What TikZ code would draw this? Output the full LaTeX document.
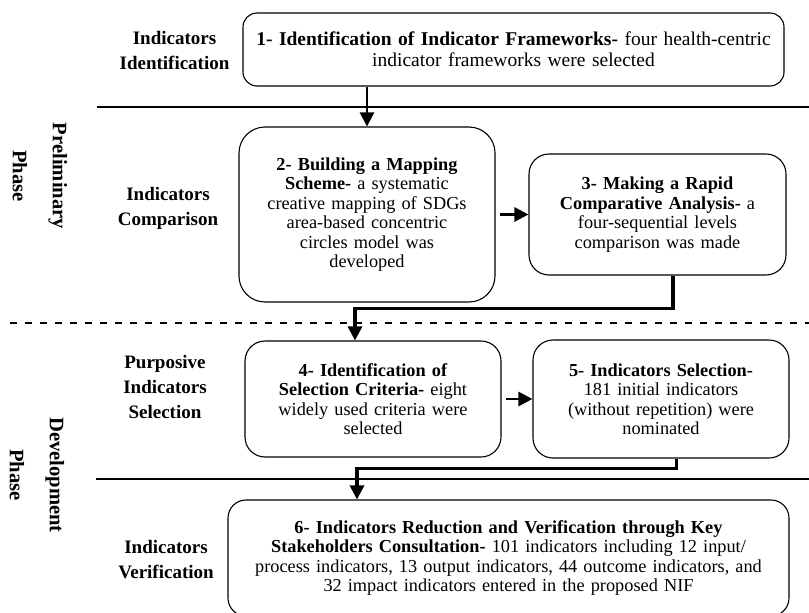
\documentclass[tikz,border=0pt]{standalone}
\usepackage{fontspec}
\setmainfont{Liberation Serif}
\usepackage{tikz}
\usetikzlibrary{arrows.meta,positioning}

\tikzset{
  stage/.style={draw, line width=1.1pt, rounded corners=14pt, align=center, inner sep=0pt,
    font=\fontsize{18.3}{19.5}\selectfont},
  stagelabel/.style={align=center, font=\fontsize{19}{25}\selectfont\bfseries},
  phase/.style={align=center, rotate=-90, font=\fontsize{20.6}{40}\selectfont\bfseries},
  flow/.style={line width=2.8pt, -{Triangle[length=14pt,width=14pt]}},
  divider/.style={line width=2.4pt},
}

\begin{document}
\begin{tikzpicture}[x=1pt,y=-1pt,on grid]
    \useasboundingbox (0,0) rectangle (809,613);
    % phases and stages on the left
    \node[phase] (prelim) at (40,176) {Preliminary\\Phase};
    \node[phase] (develop) at (37,475) {Development\\Phase};
    \node[stagelabel] (lblident) at (174.5,50.5) {Indicators\\Identification};
    \node[stagelabel] (lblcomp) at (168,208.5) {Indicators\\Comparison};
    \node[stagelabel] (lblpurp) at (165,387) {Purposive\\Indicators\\Selection};
    \node[stagelabel] (lblverif) at (166,559.5) {Indicators\\Verification};
    % dividers
    \draw[divider] (97,107) -- (809,107);
    \draw[divider, line width=2pt, dash pattern=on 6.5pt off 8.5pt] (10,323) -- (809,323);
    \draw[divider] (96,479) -- (809,479);
    % steps
    \node[stage, font=\fontsize{19.5}{21}\selectfont, minimum width=541pt, minimum height=73pt, text width=535pt] (ident) at (513.5,49.5)
      {\textbf{1- Identification of Indicator Frameworks-} four health-centric\\ indicator frameworks were selected};
    \node[stage, rounded corners=26pt, minimum width=256pt, minimum height=175pt, text width=250pt] (mapping)
      [below left=165pt and 146.5pt of ident]
      {\textbf{2- Building a Mapping}\\ \textbf{Scheme-} a systematic\\ creative mapping of SDGs\\ area-based concentric\\ circles model was\\ developed};
    \node[stage, rounded corners=20pt, minimum width=257pt, minimum height=121pt, text width=250pt] (rapid)
      [right=290.5pt of mapping]
      {\textbf{3- Making a Rapid}\\ \textbf{Comparative Analysis-} a\\ four-sequential levels\\ comparison was made};
    \node[stage, rounded corners=20pt, minimum width=256pt, minimum height=116pt, text width=250pt] (criteria)
      [below right=184.5pt and 6pt of mapping]
      {\textbf{4- Identification of}\\ \textbf{Selection Criteria-} eight\\ widely used criteria were\\ selected};
    \node[stage, rounded corners=20pt, minimum width=256pt, minimum height=118pt, text width=250pt] (selection)
      [right=288pt of criteria]
      {\textbf{5- Indicators Selection-}\\ 181 initial indicators\\ (without repetition) were\\ nominated};
    \node[stage, rounded corners=18pt, minimum width=561pt, minimum height=116pt, text width=550pt] (verify)
      [below right=159pt and 135.5pt of criteria]
      {\textbf{6- Indicators Reduction and Verification through Key}\\
       \textbf{Stakeholders Consultation-} 101 indicators including 12 input/\\
       process indicators, 13 output indicators, 44 outcome indicators, and\\
       32 impact indicators entered in the proposed NIF};
    % connectors
    \draw[flow] (ident.south -| mapping.north) -- (mapping.north);
    \draw[flow] ([xshift=4pt]mapping.east) -- (mapping.east -| rapid.west);
    \draw[flow, line width=3.2pt] ([xshift=15.5pt]rapid.south) -- ++(0,33) -| ([xshift=-18pt]criteria.north);
    \draw[flow] ([xshift=4pt]criteria.east) -- (criteria.east -| selection.west);
    \draw[flow, line width=3.2pt] ([xshift=15.5pt]selection.south) -- ++(0,10) -| ([xshift=-151.5pt]verify.north);
\end{tikzpicture}
\end{document}
